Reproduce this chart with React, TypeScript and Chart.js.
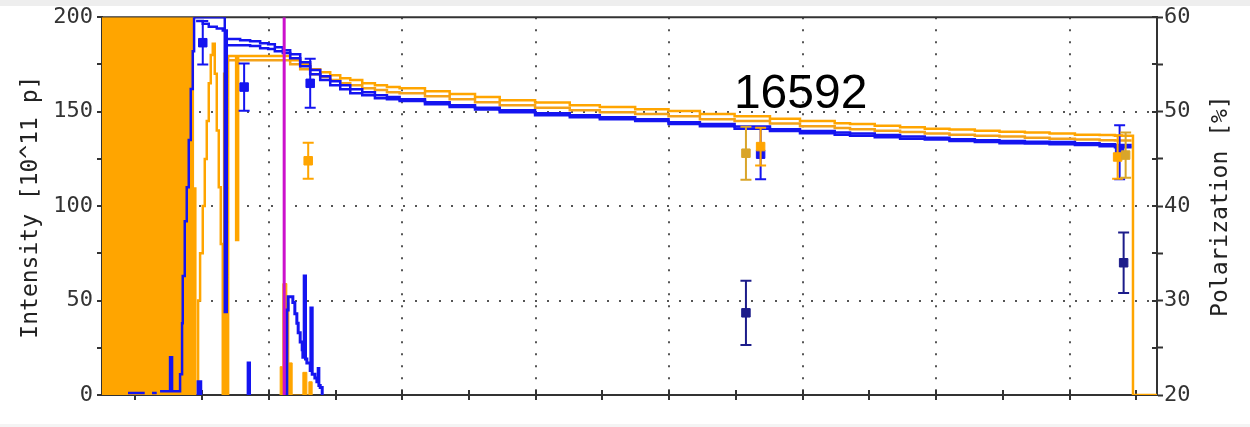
import React, { useEffect, useRef } from 'react';
import { Chart, registerables } from 'chart.js';

Chart.register(...registerables);

type Pt = [number, number | null];

// ---- axes ----
const xTickValues = [0.5, 1.5, 2.5, 3.5, 4.5, 5.5, 6.5, 7.5, 8.5, 9.5, 10.5, 11.5, 12.5, 13.5, 14.5, 15.5];
const xGridValues = [2.5, 4.5, 6.5, 8.5, 10.5, 12.5, 14.5];
const xMin = 0;
const xMax = 15.81;
const intensityLabels = [0, 50, 100, 150, 200];
const intensityGrid = [50, 100, 150];
const polarizationLabels = [20, 30, 40, 50, 60];
const intensityTitle = 'Intensity [10^11 p]';
const polarizationTitle = 'Polarization [%]';
const runNumber = '16592';
const runNumberPos: [number, number] = [10.47, 151.9];

// ---- intensity histograms (x, intensity) ----
const orangeFill: Pt[] = [[0, 250], [1.38, 110], [1.42, 0]];

const blueUpper: Pt[] = [
  [0.39, 1], [0.64, 1], [0.66, null], [0.75, 1], [0.82, 1], [0.84, null],
  [0.87, 2], [1.02, 20], [1.05, 2], [1.17, 11], [1.2, 38], [1.21, 63], [1.24, 92],
  [1.27, 110], [1.3, 135], [1.33, 162], [1.36, 182], [1.38, 200], [1.84, 44],
  [1.87, 188.4], [2.07, 187.8], [2.22, 187.3], [2.37, 186.2], [2.49, 185.7],
  [2.59, 184.1], [2.71, 182.5], [2.82, 180.4], [2.97, 176.2], [3.12, 172.0],
  [3.27, 168.8], [3.42, 166.1], [3.57, 164.0], [3.72, 161.9], [3.9, 160.3],
  [4.09, 158.7], [4.27, 157.7], [4.46, 156.6], [4.84, 155.0], [5.21, 153.4],
  [5.59, 152.1], [5.96, 150.8], [6.49, 149.2], [7.01, 148.1], [7.46, 147.1],
  [7.99, 146.0], [8.49, 144.4], [8.96, 143.4], [9.48, 142.1], [10.01, 140.7],
  [10.46, 139.7], [10.98, 138.9], [11.21, 138.4], [11.58, 137.6], [11.96, 136.8],
  [12.33, 136.2], [12.7, 135.4], [13.08, 134.9], [13.45, 134.4], [13.83, 134.1],
  [14.2, 133.9], [14.58, 133.3], [14.95, 132.8], [15.18, 132.3], [15.43, 132.3],
];

const blueLower: Pt[] = [
  [1.41, 198], [1.51, 196.5], [1.6, 195], [1.72, 194], [1.81, 193], [1.84, 193],
  [1.87, 185.2], [2.22, 184.7], [2.37, 183.6], [2.49, 183.1], [2.59, 182.0],
  [2.71, 181.0], [2.82, 178.3], [2.97, 174.1], [3.12, 169.8], [3.27, 166.7],
  [3.42, 164.0], [3.57, 161.9], [3.72, 159.8], [3.9, 158.7], [4.09, 157.1],
  [4.27, 156.6], [4.46, 155.6], [4.84, 153.9], [5.21, 152.4], [5.59, 151.1],
  [5.96, 149.7], [6.49, 148.1], [7.01, 147.1], [7.46, 146.0], [7.99, 145.0],
  [8.49, 143.4], [8.96, 142.3], [9.48, 141.0], [10.01, 139.7], [10.46, 138.6],
  [10.98, 137.8], [11.21, 137.3], [11.58, 136.5], [11.96, 135.7], [12.33, 135.2],
  [12.7, 134.4], [13.08, 133.9], [13.45, 133.3], [13.83, 133.1], [14.2, 132.8],
  [14.58, 132.3], [14.95, 131.7], [15.18, 131.2], [15.43, 131.2],
];

const orangeUpper: Pt[] = [
  [1.42, 0], [1.44, 50], [1.47, 75], [1.51, 100], [1.54, 125], [1.57, 145],
  [1.6, 165], [1.63, 180], [1.66, 186], [1.69, 170], [1.72, 140], [1.75, 110],
  [1.78, 80], [1.81, 0], [1.83, 170], [1.84, 0], [1.86, 175], [1.87, 0],
  [1.89, 179.4], [2.01, 82], [2.04, 179.4], [2.71, 179.4], [2.82, 177.2],
  [2.97, 175.1], [3.12, 172.5], [3.27, 170.9], [3.42, 169.3], [3.57, 167.7],
  [3.72, 166.7], [3.9, 165.1], [4.09, 164.0], [4.27, 163.0], [4.46, 162.4],
  [4.84, 160.8], [5.21, 159.3], [5.59, 157.7], [5.96, 156.1], [6.49, 154.8],
  [7.01, 153.4], [7.46, 152.4], [7.99, 151.3], [8.49, 150.3], [8.96, 148.7],
  [9.48, 147.6], [10.01, 146.3], [10.46, 145.0], [10.98, 143.9], [11.21, 143.4],
  [11.58, 142.6], [11.96, 141.8], [12.33, 141.0], [12.7, 140.5], [13.08, 139.9],
  [13.45, 139.4], [13.83, 138.9], [14.2, 138.4], [14.58, 137.8], [14.95, 137.6],
  [15.18, 137.3], [15.45, 0], [15.81, 0],
];

const orangeLower: Pt[] = [
  [1.89, 177.2], [2.71, 177.2], [2.82, 175.1], [2.97, 172.5], [3.12, 169.8],
  [3.27, 168.3], [3.42, 166.7], [3.57, 165.1], [3.72, 164.0], [3.9, 162.4],
  [4.09, 161.4], [4.27, 160.3], [4.46, 159.8], [4.84, 158.2], [5.21, 156.6],
  [5.59, 155.0], [5.96, 153.4], [6.49, 152.1], [7.01, 150.8], [7.46, 149.7],
  [7.99, 148.7], [8.49, 147.6], [8.96, 146.0], [9.48, 145.0], [10.01, 143.7],
  [10.46, 142.3], [10.98, 141.3], [11.21, 140.7], [11.58, 139.9], [11.96, 139.2],
  [12.33, 138.4], [12.7, 137.8], [13.08, 137.3], [13.45, 136.8], [13.83, 136.2],
  [14.2, 135.7], [14.58, 135.2], [14.95, 134.9], [15.18, 134.7], [15.43, 134.7],
];

const orangeLow: Pt[] = [
  [2.66, 0], [2.67, 15], [2.71, 59], [2.77, 49], [2.8, 17], [2.85, 0],
  [3.01, 12], [3.07, 0], [3.1, 7], [3.15, 0],
];

const blueLow: Pt[] = [
  [1.43, 0], [1.44, 7], [1.48, 0], [1.5, null], [2.18, 0], [2.19, 17], [2.21, 0],
  [2.23, null], [2.74, 0], [2.77, 45], [2.79, 52], [2.86, 49], [2.89, 43],
  [2.92, 38], [2.94, 33], [2.97, 28], [3.0, 24], [3.01, 20], [3.03, 63],
  [3.05, 19], [3.07, 17], [3.12, 13], [3.13, 46], [3.15, 11], [3.19, 9],
  [3.22, 7], [3.24, 14], [3.25, 5], [3.27, 4], [3.3, 0], [3.31, 0],
];

const markerLine: Pt[] = [[2.73, 0], [2.73, 200]];

// ---- polarization measurements (x, value, error) ----
const polBlueX = [1.51, 2.13, 3.12, 9.87, 15.25];
const polBlueY = [57.3, 52.6, 53.0, 45.5, 45.7];
const polBlueErr = [2.3, 2.5, 2.6, 2.65, 2.85];

const polOrangeX = [3.09, 9.87, 15.22];
const polOrangeY = [44.8, 46.3, 45.2];
const polOrangeErr = [1.9, 2.0, 2.3];

const polGoldX = [9.65, 15.34];
const polGoldY = [45.6, 45.4];
const polGoldErr = [2.8, 2.4];

const polNavyX = [9.65, 15.31];
const polNavyY = [28.7, 34.0];
const polNavyErr = [3.4, 3.2];

const BLUE = '#1414f0';
const ORANGE = '#ffa500';
const GOLD = '#d9a52a';
const NAVY = '#1c1c8a';
const MAGENTA = '#cc11cc';
const AXIS = '#333333';
const GRID = '#555555';

const toXY = (pts: Pt[]) => pts.map(([x, y]) => ({ x, y }));

const errorBarPlugin = {
  id: 'errorBars',
  beforeDatasetDraw(chart: any, args: any) {
    const ds = chart.data.datasets[args.index];
    if (!ds.errors) return;
    const meta = args.meta;
    const xs = chart.scales[meta.xAxisID];
    const ys = chart.scales[meta.yAxisID];
    const ctx = chart.ctx;
    ctx.save();
    ctx.strokeStyle = ds.borderColor;
    ctx.lineWidth = 2;
    ds.data.forEach((p: any, i: number) => {
      const e = ds.errors[i];
      const x = xs.getPixelForValue(p.x);
      const y1 = ys.getPixelForValue(p.y + e);
      const y2 = ys.getPixelForValue(p.y - e);
      ctx.beginPath();
      ctx.moveTo(x, y1);
      ctx.lineTo(x, y2);
      ctx.moveTo(x - 5.5, y1);
      ctx.lineTo(x + 5.5, y1);
      ctx.moveTo(x - 5.5, y2);
      ctx.lineTo(x + 5.5, y2);
      ctx.stroke();
    });
    ctx.restore();
  },
};

const framePlugin = {
  id: 'frame',
  beforeDatasetsDraw(chart: any) {
    const { ctx, chartArea: a, scales } = chart;
    ctx.save();
    ctx.strokeStyle = AXIS;
    ctx.lineWidth = 2;
    ctx.beginPath();
    ctx.moveTo(a.left, a.top);
    ctx.lineTo(a.right + 1, a.top);
    scales.x.ticks.forEach((t: any) => {
      const px = Math.round(scales.x.getPixelForValue(t.value));
      ctx.moveTo(px, a.bottom);
      ctx.lineTo(px, a.bottom - 5);
    });
    scales.y2.ticks.forEach((t: any) => {
      const py = Math.round(scales.y2.getPixelForValue(t.value));
      ctx.moveTo(a.right, py);
      ctx.lineTo(a.right - 5, py);
    });
    ctx.stroke();
    ctx.restore();
  },
  afterDraw(chart: any) {
    const { ctx, chartArea: a, scales } = chart;
    const midY = (a.top + a.bottom) / 2;
    ctx.save();
    ctx.fillStyle = '#222';
    ctx.font = '23px "DejaVu Sans Mono"';
    ctx.textAlign = 'center';
    ctx.textBaseline = 'alphabetic';
    ctx.save();
    ctx.translate(a.left - 65, midY + 1);
    ctx.rotate(-Math.PI / 2);
    ctx.fillText(intensityTitle, 0, 0);
    ctx.restore();
    ctx.save();
    ctx.translate(a.right + 70, midY);
    ctx.rotate(-Math.PI / 2);
    ctx.fillText(polarizationTitle, 0, 0);
    ctx.restore();
    ctx.fillStyle = '#000';
    ctx.font = '48px "Liberation Sans"';
    ctx.fillText(runNumber, scales.x.getPixelForValue(runNumberPos[0]), scales.y.getPixelForValue(runNumberPos[1]));
    ctx.restore();
  },
};

function lineDs(pts: Pt[], color: string, width: number, order: number, extra: any = {}) {
  return {
    data: toXY(pts),
    borderColor: color,
    backgroundColor: color,
    borderWidth: width,
    stepped: true,
    pointRadius: 0,
    fill: false,
    order,
    yAxisID: 'y',
    ...extra,
  };
}

function markerDs(xs: number[], ys: number[], errs: number[], color: string, order: number) {
  return {
    data: xs.map((x, i) => ({ x, y: ys[i] })),
    errors: errs,
    showLine: false,
    pointStyle: 'rect',
    pointRadius: 6,
    pointBorderWidth: 1,
    pointBackgroundColor: color,
    pointBorderColor: color,
    borderColor: color,
    backgroundColor: color,
    yAxisID: 'y2',
    order,
  };
}

export default function App() {
  const ref = useRef<HTMLCanvasElement | null>(null);

  useEffect(() => {
    if (!ref.current) return;
    const datasets: any[] = [
      markerDs(polGoldX, polGoldY, polGoldErr, GOLD, 0),
      markerDs(polOrangeX, polOrangeY, polOrangeErr, ORANGE, 1),
      markerDs(polBlueX, polBlueY, polBlueErr, BLUE, 2),
      markerDs(polNavyX, polNavyY, polNavyErr, NAVY, 3),
      lineDs(markerLine, MAGENTA, 3, 4, { stepped: false }),
      lineDs(blueLow, BLUE, 3, 5),
      lineDs(blueUpper, BLUE, 2.5, 6),
      lineDs(blueLower, BLUE, 2.5, 7),
      lineDs(orangeUpper, ORANGE, 2.5, 8),
      lineDs(orangeLower, '#f4a21a', 2.5, 9),
      lineDs(orangeLow, ORANGE, 1, 10, { fill: 'origin' }),
      lineDs(orangeFill, ORANGE, 0, 11, { fill: 'origin' }),
    ];

    const tickFont = { family: '"DejaVu Sans Mono"', size: 22 };

    const chart = new Chart(ref.current, {
      type: 'line',
      data: { datasets },
      options: {
        animation: false,
        responsive: false,
        layout: { padding: { top: 17, left: 0, right: 0, bottom: 0 } },
        plugins: { legend: { display: false }, tooltip: { enabled: false } },
        scales: {
          x: {
            type: 'linear',
            min: xMin,
            max: xMax,
            afterBuildTicks: (s: any) => {
              s.ticks = xTickValues.map((v) => ({ value: v }));
            },
            afterFit: (s: any) => {
              s.height = 32;
            },
            ticks: { display: false },
            grid: {
              color: (c: any) => (c.tick && xGridValues.includes(c.tick.value) ? GRID : 'rgba(0,0,0,0)'),
              lineWidth: 2,
              tickColor: AXIS,
              tickWidth: 2,
              tickLength: 5,
            },
            border: { color: AXIS, width: 2, dash: [2, 10] },
          },
          y: {
            position: 'left',
            min: 0,
            max: 200,
            afterFit: (s: any) => {
              s.width = 102;
            },
            ticks: {
              stepSize: 25,
              padding: 4,
              color: '#333',
              font: tickFont,
              callback: (v: any) => (intensityLabels.includes(v) ? String(v) : ''),
            },
            grid: {
              color: (c: any) => (c.tick && intensityGrid.includes(c.tick.value) ? GRID : 'rgba(0,0,0,0)'),
              lineWidth: 2,
              tickColor: AXIS,
              tickWidth: 2,
              tickLength: 5,
            },
            border: { color: AXIS, width: 2, dash: [2, 10] },
          },
          y2: {
            position: 'right',
            min: 20,
            max: 60,
            afterFit: (s: any) => {
              s.width = 93;
            },
            ticks: {
              stepSize: 5,
              padding: 1,
              color: '#333',
              font: tickFont,
              callback: (v: any) => (polarizationLabels.includes(v) ? String(v) : ''),
            },
            grid: {
              drawOnChartArea: false,
              tickColor: AXIS,
              tickWidth: 2,
              tickLength: 6,
            },
            border: { color: AXIS, width: 2 },
          },
        },
      } as any,
      plugins: [framePlugin, errorBarPlugin],
    });
    return () => chart.destroy();
  }, []);

  return (
    <div
      style={{
        position: 'fixed',
        left: 0,
        top: 0,
        width: 1250,
        height: 427,
        background: '#ffffff',
        overflow: 'hidden',
      }}
    >
      <div style={{ position: 'absolute', left: 0, top: 0, width: 1250, height: 6, background: '#eeeeee' }} />
      <div style={{ position: 'absolute', left: 0, top: 424, width: 1250, height: 3, background: '#f4f4f4' }} />
      <canvas ref={ref} width={1250} height={427} style={{ position: 'absolute', left: 0, top: 0 }} />
    </div>
  );
}
